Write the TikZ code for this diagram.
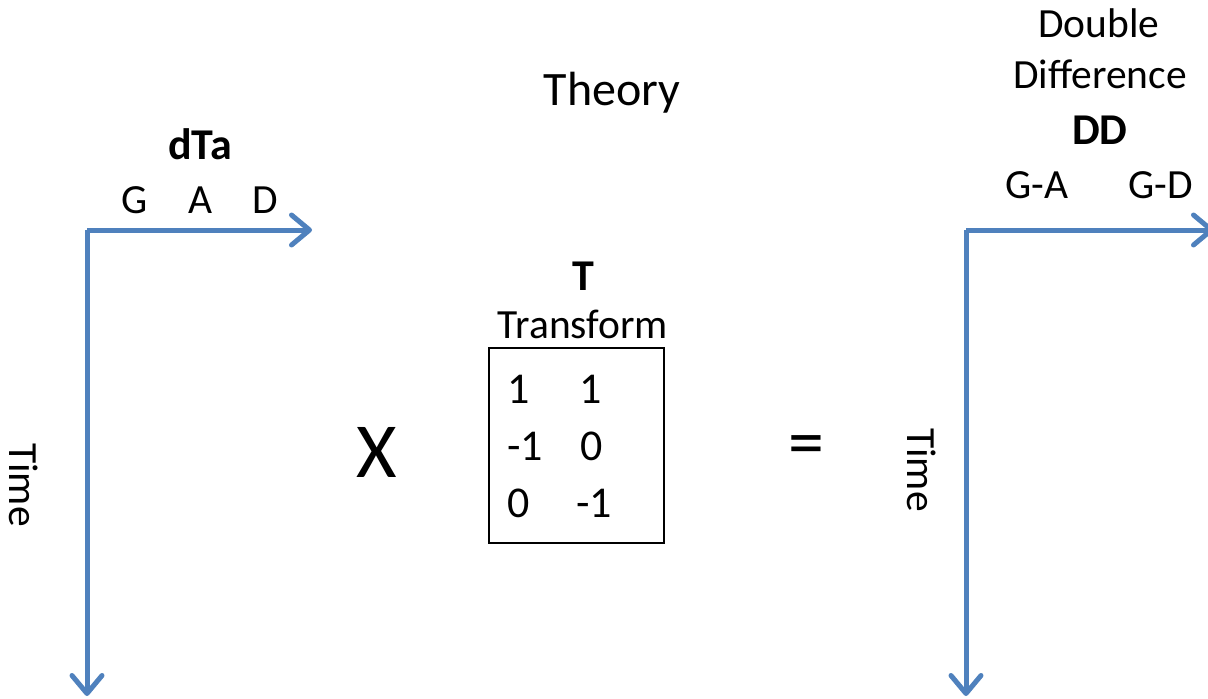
\documentclass[tikz,border=0pt]{standalone}
\usepackage{fontspec}
\setmainfont{Carlito}
\usetikzlibrary{arrows.meta}
\definecolor{axisblue}{HTML}{4F81BD}
\tikzset{
  axis/.style={draw=axisblue, line width=5pt, line join=miter, -{Straight Barb[length=18pt,width=30pt,round]}},
  lbl/.style={anchor=base, inner sep=0pt, font=\fontsize{41.5}{49}\selectfont},
  blbl/.style={lbl, font=\fontsize{44}{52}\selectfont\bfseries},
  mat/.style={anchor=base west, inner sep=0pt, font=\fontsize{44}{52}\selectfont},
}
\begin{document}
\begin{tikzpicture}[x=1pt,y=-1pt]
\useasboundingbox (0,0) rectangle (1208,699);
\clip (0,0) rectangle (1208,699);
% left axes
\coordinate (lc) at (87,230);
\coordinate (lx) at (312,230);
\coordinate (ly) at (87,696);
\draw[axis] (lc) -- (lx);
\draw[axis] (lc) -- (ly);
% right axes
\coordinate (rc) at (966,230);
\coordinate (rx) at (1214,230);
\coordinate (ry) at (966,696);
\draw[axis] (rc) -- (rx);
\draw[axis] (rc) -- (ry);
% labels
\node[lbl, font=\fontsize{48}{58}\selectfont] (theory) at (612,105) {Theory};
\node[blbl] (dta) at (200,159) {dTa};
\node[lbl] (g) at (135,213) {G};
\node[lbl] (a) at (201,213) {A};
\node[lbl] (d) at (265,213) {D};
\node[lbl] (dbl) at (1099,37) {Double};
\node[lbl] (dif) at (1100,88) {Difference};
\node[blbl] (dd) at (1100,144) {DD};
\node[lbl] (ga) at (1037,198) {G-A};
\node[lbl] (gd) at (1161,198) {G-D};
\node[lbl, anchor=center, rotate=-90] (time1) at (24,485) {Time};
\node[lbl, anchor=center, rotate=-90] (time2) at (922,470) {Time};
\node[lbl, font=\fontsize{78}{90}\selectfont] (x) at (377,477) {X};
\node[lbl, font=\fontsize{72}{86}\selectfont] (eq) at (806,466) {=};
% transform
\node[blbl] (tb) at (583,290) {T};
\node[lbl] (tr) at (583,338) {Transform};
\node[draw, line width=1.5pt, inner sep=0pt, minimum width=175pt, minimum height=195pt, anchor=north west] (box) at (488,347) {};
\node[mat] (m11) at (507,403) {1};
\node[mat] (m12) at (579,403) {1};
\node[mat] (m21) at (507,460) {-1};
\node[mat] (m22) at (580,460) {0};
\node[mat] (m31) at (507,517) {0};
\node[mat] (m32) at (576,517) {-1};
\end{tikzpicture}
\end{document}
